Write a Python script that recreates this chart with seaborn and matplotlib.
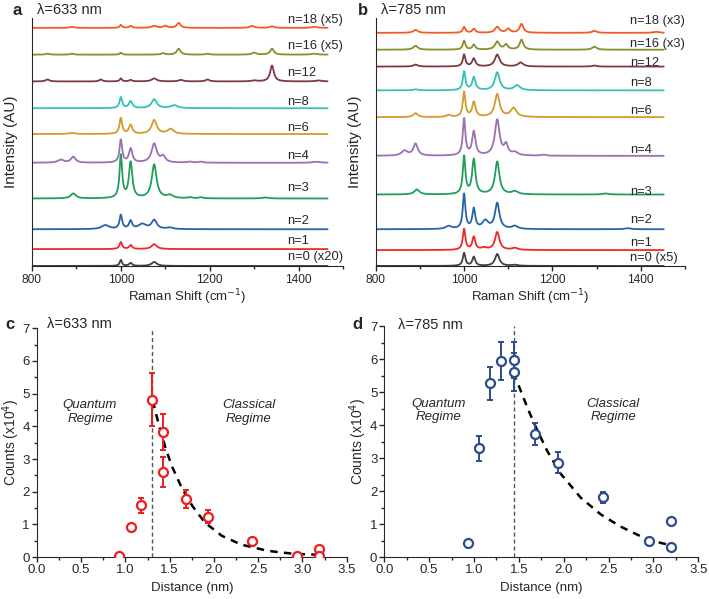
import matplotlib
matplotlib.use("Agg")
import matplotlib.pyplot as plt
from matplotlib.ticker import MultipleLocator, FormatStrFormatter
import seaborn as sns
import numpy as np

sns.set_style("ticks")
plt.rcParams['font.family'] = ['Liberation Sans', 'DejaVu Sans']

# --- Raman spectra (a, b) ---
labels_633 = ["n=0 (x20)", "n=1", "n=2", "n=3", "n=4", "n=6", "n=8", "n=12", "n=16 (x5)", "n=18 (x5)"]
labels_785 = ["n=0 (x5)", "n=1", "n=2", "n=3", "n=4", "n=6", "n=8", "n=12", "n=16 (x3)", "n=18 (x3)"]
colors = ["#404040", "#f02828", "#2a62a8", "#1f9e5c", "#9c70b0",
          "#d49a2c", "#33c2b6", "#7b3a3e", "#8c8c2c", "#f35a26"]

# vertical offset of each trace and of its label (axis units)
offsets_633 = [0, 17, 37, 68, 104, 133, 159, 186, 213, 240]
label_y_633 = [9, 25, 45, 79, 111, 139, 165, 195, 222, 248]
offsets_785 = [0, 16, 37, 72, 111, 150, 177, 201, 218, 235]
label_y_785 = [8, 23, 46, 75, 117, 156, 184, 205, 224, 247]

# peaks: (Raman shift, height, half width)
peaks_633 = [
    [(1000, 6, 3), (1022, 3, 4), (1075, 4, 7)],
    [(1000, 7, 3.5), (1022, 4, 4), (1075, 5, 7)],
    [(965, 4, 10), (1000, 14, 3.5), (1022, 8, 4), (1048, 5, 10), (1075, 9, 7), (1110, 1.5, 8)],
    [(893, 5, 7), (1000, 43, 3.5), (1022, 36, 4.5), (1075, 34, 6.5), (1110, 3, 8),
     (1155, 1, 6), (1180, 1, 6), (1325, 1, 8)],
    [(865, 3, 8), (893, 6, 6), (1000, 23, 3.5), (1022, 14, 4.5), (1075, 19, 7), (1095, 6, 6),
     (1155, 1, 6), (1180, 1, 6), (1440, 1, 10)],
    [(890, 1, 8), (1000, 16, 3.5), (1022, 9, 4.5), (1075, 14, 7), (1112, 5, 8)],
    [(1000, 11, 3.5), (1022, 7, 4.5), (1075, 9, 7), (1120, 3, 9)],
    [(835, 2, 5), (955, 2, 4), (1000, 3, 3), (1022, 1.5, 4), (1075, 3, 7), (1135, 1.5, 6),
     (1195, 2, 5), (1300, 1, 6), (1340, 16, 5), (1445, 1, 8)],
    [(835, 1, 5), (890, 1, 5), (1000, 2, 3), (1095, 1.5, 5), (1130, 6, 5), (1195, 1, 5),
     (1300, 2, 6), (1340, 6, 5), (1435, 1, 8)],
    [(890, 1, 6), (1000, 3, 3), (1022, 2, 4), (1075, 2, 7), (1100, 2, 5), (1130, 5, 5),
     (1295, 2, 6), (1340, 1.5, 6), (1435, 1, 8)],
]
peaks_785 = [
    [(1000, 13, 3.5), (1022, 9, 4), (1075, 12, 6), (1115, 1, 8)],
    [(1000, 21, 3.5), (1022, 13, 4), (1045, 2, 8), (1075, 18, 6), (1115, 2, 8)],
    [(965, 3, 8), (1000, 35, 3.5), (1022, 20, 4), (1048, 8, 8), (1075, 26, 6), (1115, 3, 8), (1370, 1, 8)],
    [(893, 5, 7), (1000, 38, 3.5), (1022, 35, 4.5), (1075, 33, 6), (1115, 3, 8), (1320, 1, 8)],
    [(865, 5, 8), (890, 12, 6), (1000, 37, 3.5), (1022, 24, 4.5), (1075, 36, 6.5), (1095, 10, 5),
     (1115, 3, 8), (1180, 1, 6)],
    [(890, 4, 6), (965, 2, 6), (1000, 25, 3.5), (1022, 15, 4.5), (1075, 23, 6.5), (1112, 9, 8)],
    [(890, 1, 6), (1000, 19, 3.5), (1022, 13, 4.5), (1075, 18, 6.5), (1120, 5, 8)],
    [(890, 2, 6), (1000, 12, 3.5), (1022, 8, 4.5), (1075, 12, 6.5), (1128, 4, 7), (1295, 1, 6)],
    [(890, 4, 6), (1000, 9, 3.5), (1022, 5, 4), (1075, 8, 6), (1095, 5, 5), (1130, 10, 5), (1295, 3, 6)],
    [(890, 3, 6), (1000, 6, 3.5), (1022, 4, 4), (1075, 6, 6), (1100, 4, 5), (1130, 9, 5),
     (1295, 2, 6), (1435, 1, 8)],
]

# --- counts vs distance (c, d) ---
dist_633 = [0.93, 1.06, 1.18, 1.30, 1.43, 1.43, 1.68, 1.93, 2.43, 2.94, 3.19, 3.19]
counts_633 = [0.02, 0.91, 1.58, 4.82, 3.83, 2.61, 1.78, 1.24, 0.50, 0.04, 0.24, 0.04]
err_633 = [0.05, 0.10, 0.23, 0.82, 0.56, 0.46, 0.27, 0.21, 0.08, 0.05, 0.05, 0.05]
fit_x_633 = [1.31, 1.38, 1.46, 1.53, 1.64, 1.76, 1.90, 2.09, 2.31, 2.61, 2.90, 3.19]
fit_y_633 = [4.78, 4.02, 3.28, 2.75, 2.10, 1.55, 1.05, 0.65, 0.38, 0.19, 0.10, 0.07]

dist_785 = [0.93, 1.06, 1.18, 1.30, 1.44, 1.44, 1.68, 1.94, 2.44, 2.95, 3.20, 3.20]
counts_785 = [0.42, 3.30, 5.28, 5.95, 5.99, 5.62, 3.73, 2.87, 1.81, 0.49, 1.10, 0.31]
err_785 = [0.04, 0.38, 0.50, 0.57, 0.55, 0.58, 0.33, 0.33, 0.17, 0.05, 0.05, 0.05]
fit_x_785 = [1.44, 1.52, 1.60, 1.68, 1.81, 1.96, 2.19, 2.41, 2.63, 2.85, 3.08, 3.19]
fit_y_785 = [5.60, 5.05, 4.50, 4.00, 3.25, 2.55, 1.80, 1.30, 0.93, 0.64, 0.43, 0.36]


def spectrum(peaks, shift):
    y = np.zeros_like(shift)
    for pos, h, w in peaks:
        y += h * w ** 2 / ((shift - pos) ** 2 + w ** 2)
    return y


def draw_spectra(ax, peaks, offsets, labels, label_y, x_end):
    shift = np.linspace(800, x_end, 1400)
    for i in range(len(peaks)):
        sns.lineplot(x=shift, y=spectrum(peaks[i], shift) + offsets[i], ax=ax,
                     color=colors[i], lw=1.3, sort=False, estimator=None)
        ax.text(1375, label_y[i], labels[i], fontsize=9.3, va="center", ha="left")
    ax.set_xlim(800, 1500)
    ax.set_ylim(0, 250)
    ax.set_yticks([])
    ax.xaxis.set_major_locator(MultipleLocator(200))
    ax.xaxis.set_minor_locator(MultipleLocator(100))
    ax.tick_params(axis="x", which="major", length=3.5, width=1, labelsize=8.6, pad=2)
    ax.tick_params(axis="x", which="minor", length=2, width=1)
    ax.set_xlabel("Raman Shift (cm$^{-1}$)", fontsize=9.5, labelpad=1)
    ax.set_ylabel("Intensity (AU)", fontsize=11, labelpad=10)
    sns.despine(ax=ax)


def draw_counts(ax, dist, counts, err, fit_x, fit_y, color, vline):
    ax.axvline(vline, color="#555555", lw=1, ls=(0, (3, 2)), zorder=1)
    sns.lineplot(x=fit_x, y=fit_y, ax=ax, color="black", lw=1.8,
                 linestyle=(0, (3, 2.5)), sort=False, estimator=None, zorder=2)
    ax.errorbar(dist, counts, yerr=err, fmt="none", ecolor=color, elinewidth=1.4,
                capsize=2.5, capthick=1.4, zorder=3)
    sns.scatterplot(x=dist, y=counts, ax=ax, marker="o", s=42, facecolor="white",
                    edgecolor=color, linewidth=1.6, zorder=4)
    ax.set_xlim(0, 3.5)
    ax.set_ylim(0, 7)
    ax.xaxis.set_major_locator(MultipleLocator(0.5))
    ax.xaxis.set_minor_locator(MultipleLocator(0.25))
    ax.yaxis.set_major_locator(MultipleLocator(1))
    ax.yaxis.set_minor_locator(MultipleLocator(0.5))
    ax.xaxis.set_major_formatter(FormatStrFormatter("%.1f"))
    ax.tick_params(which="major", length=3.5, width=1, labelsize=9.5, pad=1.5)
    ax.tick_params(which="minor", length=2, width=1)
    ax.set_xlabel("Distance (nm)", fontsize=9.5, labelpad=4)
    ax.set_ylabel("Counts (x10$^4$)", fontsize=10, labelpad=0.5)
    sns.despine(ax=ax)


fig = plt.figure(figsize=(7.09, 5.99), dpi=100)

ax_a = fig.add_axes([0.045, 0.556, 0.439, 0.414])
ax_b = fig.add_axes([0.530, 0.556, 0.436, 0.414])
ax_c = fig.add_axes([0.052, 0.070, 0.437, 0.382])
ax_d = fig.add_axes([0.542, 0.070, 0.443, 0.385])

draw_spectra(ax_a, peaks_633, offsets_633, labels_633, label_y_633, 1465)
draw_spectra(ax_b, peaks_785, offsets_785, labels_785, label_y_785, 1452)
draw_counts(ax_c, dist_633, counts_633, err_633, fit_x_633, fit_y_633, "#ee1c1c", 1.30)
draw_counts(ax_d, dist_785, counts_785, err_785, fit_x_785, fit_y_785, "#2b4c8c", 1.44)

for ax, xq, xc in ((ax_c, 0.6, 2.39), (ax_d, 0.6, 2.55)):
    ax.text(xq, 4.45, "Quantum\nRegime", style="italic", fontsize=9.5,
            ha="center", va="center", linespacing=1.2)
    ax.text(xc, 4.45, "Classical\nRegime", style="italic", fontsize=9.5,
            ha="center", va="center", linespacing=1.2)

fig.text(0.018, 0.983, "a", fontsize=12, fontweight="bold", va="center")
fig.text(0.052, 0.983, "λ=633 nm", fontsize=10.5, va="center")
fig.text(0.505, 0.983, "b", fontsize=12, fontweight="bold", va="center")
fig.text(0.538, 0.983, "λ=785 nm", fontsize=10.5, va="center")
fig.text(0.008, 0.459, "c", fontsize=12, fontweight="bold", va="center")
fig.text(0.066, 0.459, "λ=633 nm", fontsize=10.5, va="center")
fig.text(0.497, 0.458, "d", fontsize=12, fontweight="bold", va="center")
fig.text(0.561, 0.458, "λ=785 nm", fontsize=10.5, va="center")

fig.savefig("out.png", dpi=100)
